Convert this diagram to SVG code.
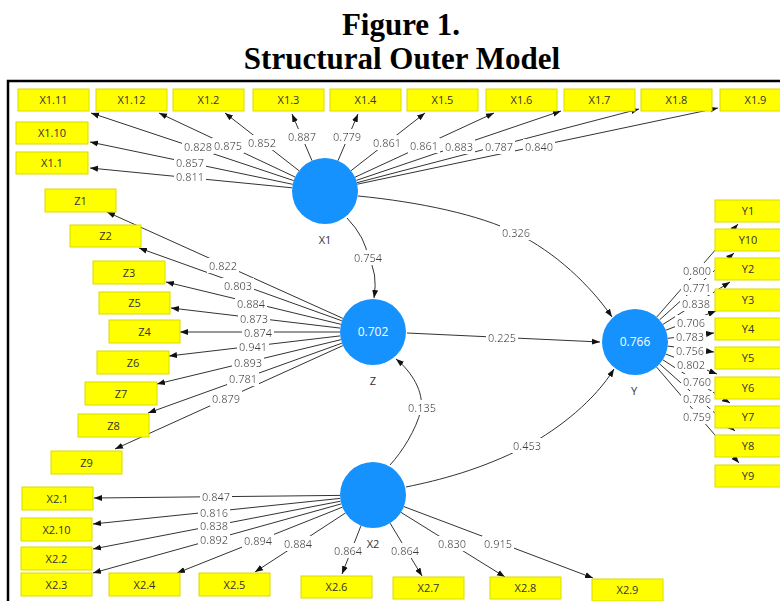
<svg xmlns="http://www.w3.org/2000/svg" width="780" height="601" viewBox="0 0 780 601">
  <defs>
    <marker id="arr" viewBox="0 0 8 8" refX="8" refY="4" markerWidth="8" markerHeight="8" markerUnits="userSpaceOnUse" orient="auto">
      <path d="M0,1 L8,4 L0,7 z" fill="#111"/>
    </marker>
    <filter id="lblbg" x="-0.04" y="0" width="1.08" height="1">
      <feFlood flood-color="#ffffff"/>
      <feComposite in="SourceGraphic" operator="over"/>
    </filter>
  </defs>
  <style>
    .title { font-family: "Liberation Serif", "Times New Roman", serif; font-weight: bold; font-size: 31px; fill: #000; text-anchor: middle; }
    .frame { fill: none; stroke: #000; stroke-width: 2.5; }
    .ind rect { fill: #ffff00; stroke: #dada00; stroke-width: 1; }
    .ind text, .lv text.name { font-family: "Open Sans", "DejaVu Sans", sans-serif; font-size: 11px; fill: #333; text-anchor: middle; }
    .lv circle { fill: #1592fd; }
    .lv text.val { font-family: "Open Sans", "DejaVu Sans", sans-serif; font-size: 12px; fill: #fff; text-anchor: middle; }
    .edge { fill: none; stroke: #333; stroke-width: 1; marker-end: url(#arr); }
    .lbl { font-family: "Open Sans", "DejaVu Sans", sans-serif; font-size: 11px; fill: #3a3a3a; text-anchor: middle; filter: url(#lblbg); }
  </style>

  <rect width="780" height="601" fill="#fff"/>

  <!-- heading -->
  <text class="title" x="401" y="35">Figure 1.</text>
  <text class="title" x="402" y="69">Structural Outer Model</text>

  <!-- border of the model area -->
  <rect class="frame" x="8" y="81" width="800" height="540"/>

  <!-- connectors (lines first, weights on top) -->
  <g id="connectors">
    <!-- X1 outer loadings -->
    <line class="edge" x1="293.7" y1="180.6" x2="91" y2="113"/>
    <line class="edge" x1="295.1" y1="177" x2="159" y2="113"/>
    <line class="edge" x1="299" y1="170.7" x2="225" y2="113"/>
    <line class="edge" x1="312" y1="160.7" x2="292" y2="114"/>
    <line class="edge" x1="338" y1="160.7" x2="358" y2="114"/>
    <line class="edge" x1="351" y1="170.7" x2="425" y2="113"/>
    <line class="edge" x1="355" y1="177.2" x2="494" y2="113"/>
    <line class="edge" x1="356.3" y1="180.4" x2="561" y2="111"/>
    <line class="edge" x1="356.9" y1="182.7" x2="639" y2="109"/>
    <line class="edge" x1="357.3" y1="184.2" x2="718" y2="108"/>
    <line class="edge" x1="292.7" y1="184.3" x2="90" y2="142"/>
    <line class="edge" x1="292.2" y1="187.8" x2="90" y2="168"/>

    <!-- Z outer loadings -->
    <line class="edge" x1="342.9" y1="318.4" x2="107" y2="212"/>
    <line class="edge" x1="341.9" y1="320.8" x2="139" y2="248"/>
    <line class="edge" x1="340.9" y1="324.3" x2="166" y2="282"/>
    <line class="edge" x1="340.2" y1="328.1" x2="171" y2="308"/>
    <line class="edge" x1="340" y1="332" x2="180" y2="332"/>
    <line class="edge" x1="340.2" y1="335.9" x2="169" y2="356"/>
    <line class="edge" x1="340.9" y1="339.7" x2="157" y2="384"/>
    <line class="edge" x1="341.9" y1="343.2" x2="148" y2="413"/>
    <line class="edge" x1="342.9" y1="345.6" x2="115" y2="449"/>

    <!-- Y outer loadings -->
    <line class="edge" x1="656.7" y1="317.1" x2="738" y2="224"/>
    <line class="edge" x1="659.5" y1="319.9" x2="734" y2="253"/>
    <line class="edge" x1="662.9" y1="324.4" x2="730" y2="282"/>
    <line class="edge" x1="665.8" y1="330.2" x2="716" y2="311"/>
    <line class="edge" x1="667.8" y1="338.3" x2="714" y2="333"/>
    <line class="edge" x1="667.7" y1="346.1" x2="714" y2="352"/>
    <line class="edge" x1="665.7" y1="354" x2="717" y2="374"/>
    <line class="edge" x1="662.8" y1="359.8" x2="730" y2="403"/>
    <line class="edge" x1="659.6" y1="363.9" x2="735" y2="431"/>
    <line class="edge" x1="656.5" y1="367" x2="739" y2="463"/>

    <!-- X2 outer loadings -->
    <line class="edge" x1="340" y1="495.4" x2="94" y2="498"/>
    <line class="edge" x1="340.2" y1="498.4" x2="93" y2="524"/>
    <line class="edge" x1="340.6" y1="501.2" x2="93" y2="549"/>
    <line class="edge" x1="341.2" y1="503.9" x2="93" y2="573"/>
    <line class="edge" x1="342.3" y1="507.2" x2="177" y2="573"/>
    <line class="edge" x1="345.4" y1="513" x2="255" y2="572"/>
    <line class="edge" x1="361" y1="525.7" x2="342" y2="574"/>
    <line class="edge" x1="390.1" y1="523.2" x2="422" y2="576"/>
    <line class="edge" x1="401" y1="512.4" x2="505" y2="577"/>
    <line class="edge" x1="403.9" y1="506.6" x2="593" y2="578"/>

    <!-- inner (structural) paths -->
    <path class="edge" d="M347,218 Q366,238 368,258 Q378,272 374,298"/>
    <path class="edge" d="M358,196 C420,202 480,215 516,233 C555,252 590,285 612,317"/>
    <path class="edge" d="M407,333 L600,342"/>
    <path class="edge" d="M390,465 C402,452 416,430 421,410 C424,392 412,372 396,359"/>
    <path class="edge" d="M406,487 C440,480 480,470 527,446 C560,428 595,400 614,369"/>

    <!-- weights -->
    <text class="lbl" x="198" y="151">0.828</text>
    <text class="lbl" x="228" y="150">0.875</text>
    <text class="lbl" x="262" y="147">0.852</text>
    <text class="lbl" x="302" y="141">0.887</text>
    <text class="lbl" x="347" y="141">0.779</text>
    <text class="lbl" x="387" y="147">0.861</text>
    <text class="lbl" x="424" y="150">0.861</text>
    <text class="lbl" x="459" y="151">0.883</text>
    <text class="lbl" x="499" y="151">0.787</text>
    <text class="lbl" x="539" y="151">0.840</text>
    <text class="lbl" x="190" y="167">0.857</text>
    <text class="lbl" x="190" y="181">0.811</text>

    <text class="lbl" x="223" y="270">0.822</text>
    <text class="lbl" x="238" y="290">0.803</text>
    <text class="lbl" x="251" y="308">0.884</text>
    <text class="lbl" x="254" y="323">0.873</text>
    <text class="lbl" x="258" y="337">0.874</text>
    <text class="lbl" x="253" y="351">0.941</text>
    <text class="lbl" x="248" y="367">0.893</text>
    <text class="lbl" x="243" y="383">0.781</text>
    <text class="lbl" x="226" y="403">0.879</text>

    <text class="lbl" x="697" y="275">0.800</text>
    <text class="lbl" x="697" y="292">0.771</text>
    <text class="lbl" x="696" y="308">0.838</text>
    <text class="lbl" x="691" y="327">0.706</text>
    <text class="lbl" x="690" y="341">0.783</text>
    <text class="lbl" x="690" y="355">0.756</text>
    <text class="lbl" x="691" y="369">0.802</text>
    <text class="lbl" x="697" y="386">0.760</text>
    <text class="lbl" x="697" y="403">0.786</text>
    <text class="lbl" x="697" y="421">0.759</text>

    <text class="lbl" x="216" y="501">0.847</text>
    <text class="lbl" x="214" y="517">0.816</text>
    <text class="lbl" x="214" y="530">0.838</text>
    <text class="lbl" x="214" y="544">0.892</text>
    <text class="lbl" x="258" y="545">0.894</text>
    <text class="lbl" x="298" y="548">0.884</text>
    <text class="lbl" x="348" y="555">0.864</text>
    <text class="lbl" x="405" y="555">0.864</text>
    <text class="lbl" x="452" y="548">0.830</text>
    <text class="lbl" x="498" y="548">0.915</text>

    <text class="lbl" x="368" y="262">0.754</text>
    <text class="lbl" x="516" y="237">0.326</text>
    <text class="lbl" x="502" y="342">0.225</text>
    <text class="lbl" x="422" y="412">0.135</text>
    <text class="lbl" x="527" y="450">0.453</text>
  </g>

  <!-- latent variables -->
  <g id="X1" class="lv">
    <circle cx="325" cy="191" r="33"/>
    <text class="name" x="325" y="244">X1</text>
  </g>
  <g id="Z" class="lv">
    <circle cx="373" cy="332" r="33"/>
    <text class="val" x="373" y="336">0.702</text>
    <text class="name" x="373" y="385">Z</text>
  </g>
  <g id="Y" class="lv">
    <circle cx="635" cy="342" r="33"/>
    <text class="val" x="635" y="346">0.766</text>
    <text class="name" x="634" y="395">Y</text>
  </g>
  <g id="X2" class="lv">
    <circle cx="373" cy="495" r="33"/>
    <text class="name" x="373" y="548">X2</text>
  </g>

  <!-- X1 indicators -->
  <g id="X1_11" class="ind"><rect x="18" y="89" width="71" height="22"/><text x="53.5" y="104">X1.11</text></g>
  <g id="X1_12" class="ind"><rect x="96" y="89" width="71" height="22"/><text x="131.5" y="104">X1.12</text></g>
  <g id="X1_2" class="ind"><rect x="173" y="89" width="71" height="22"/><text x="208.5" y="104">X1.2</text></g>
  <g id="X1_3" class="ind"><rect x="253" y="89" width="71" height="22"/><text x="288.5" y="104">X1.3</text></g>
  <g id="X1_4" class="ind"><rect x="330" y="89" width="71" height="22"/><text x="365.5" y="104">X1.4</text></g>
  <g id="X1_5" class="ind"><rect x="407" y="89" width="71" height="22"/><text x="442.5" y="104">X1.5</text></g>
  <g id="X1_6" class="ind"><rect x="486" y="89" width="71" height="22"/><text x="521.5" y="104">X1.6</text></g>
  <g id="X1_7" class="ind"><rect x="564" y="89" width="71" height="22"/><text x="599.5" y="104">X1.7</text></g>
  <g id="X1_8" class="ind"><rect x="641" y="89" width="71" height="22"/><text x="676.5" y="104">X1.8</text></g>
  <g id="X1_9" class="ind"><rect x="720" y="89" width="71" height="22"/><text x="755.5" y="104">X1.9</text></g>
  <g id="X1_10" class="ind"><rect x="16" y="122" width="72" height="22"/><text x="52" y="137">X1.10</text></g>
  <g id="X1_1" class="ind"><rect x="16" y="152" width="72" height="22"/><text x="52" y="167">X1.1</text></g>

  <!-- Z indicators -->
  <g id="Z1" class="ind"><rect x="45" y="189" width="71" height="23"/><text x="80.5" y="204.5">Z1</text></g>
  <g id="Z2" class="ind"><rect x="70" y="225" width="71" height="22"/><text x="105.5" y="240">Z2</text></g>
  <g id="Z3" class="ind"><rect x="93" y="261" width="72" height="23"/><text x="129" y="276.5">Z3</text></g>
  <g id="Z5" class="ind"><rect x="99" y="292" width="71" height="22"/><text x="134.5" y="307">Z5</text></g>
  <g id="Z4" class="ind"><rect x="109" y="320" width="71" height="23"/><text x="144.5" y="335.5">Z4</text></g>
  <g id="Z6" class="ind"><rect x="97" y="351" width="72" height="23"/><text x="133" y="366.5">Z6</text></g>
  <g id="Z7" class="ind"><rect x="85" y="382" width="72" height="23"/><text x="121" y="397.5">Z7</text></g>
  <g id="Z8" class="ind"><rect x="78" y="414" width="71" height="23"/><text x="113.5" y="429.5">Z8</text></g>
  <g id="Z9" class="ind"><rect x="51" y="451" width="71" height="23"/><text x="86.5" y="466.5">Z9</text></g>

  <!-- Y indicators -->
  <g id="Y1" class="ind"><rect x="715" y="200" width="66" height="22"/><text x="748" y="215">Y1</text></g>
  <g id="Y10" class="ind"><rect x="715" y="229" width="66" height="22"/><text x="748" y="244">Y10</text></g>
  <g id="Y2" class="ind"><rect x="715" y="258" width="66" height="22"/><text x="748" y="273">Y2</text></g>
  <g id="Y3" class="ind"><rect x="715" y="289" width="66" height="22"/><text x="748" y="304">Y3</text></g>
  <g id="Y4" class="ind"><rect x="715" y="318" width="66" height="22"/><text x="748" y="333">Y4</text></g>
  <g id="Y5" class="ind"><rect x="715" y="347" width="66" height="22"/><text x="748" y="362">Y5</text></g>
  <g id="Y6" class="ind"><rect x="715" y="377" width="66" height="22"/><text x="748" y="392">Y6</text></g>
  <g id="Y7" class="ind"><rect x="715" y="406" width="66" height="22"/><text x="748" y="421">Y7</text></g>
  <g id="Y8" class="ind"><rect x="715" y="435" width="66" height="22"/><text x="748" y="450">Y8</text></g>
  <g id="Y9" class="ind"><rect x="715" y="465" width="66" height="22"/><text x="748" y="480">Y9</text></g>

  <!-- X2 indicators -->
  <g id="X2_1" class="ind"><rect x="22" y="487" width="71" height="23"/><text x="57.5" y="502.5">X2.1</text></g>
  <g id="X2_10" class="ind"><rect x="21" y="518" width="71" height="23"/><text x="56.5" y="533.5">X2.10</text></g>
  <g id="X2_2" class="ind"><rect x="21" y="547" width="71" height="23"/><text x="56.5" y="562.5">X2.2</text></g>
  <g id="X2_3" class="ind"><rect x="21" y="573" width="71" height="23"/><text x="56.5" y="588.5">X2.3</text></g>
  <g id="X2_4" class="ind"><rect x="109" y="573" width="71" height="23"/><text x="144.5" y="588.5">X2.4</text></g>
  <g id="X2_5" class="ind"><rect x="199" y="573" width="71" height="23"/><text x="234.5" y="588.5">X2.5</text></g>
  <g id="X2_6" class="ind"><rect x="301" y="576" width="71" height="22"/><text x="336.5" y="591">X2.6</text></g>
  <g id="X2_7" class="ind"><rect x="393" y="577" width="71" height="22"/><text x="428.5" y="592">X2.7</text></g>
  <g id="X2_8" class="ind"><rect x="490" y="577" width="71" height="22"/><text x="525.5" y="592">X2.8</text></g>
  <g id="X2_9" class="ind"><rect x="592" y="579" width="71" height="22"/><text x="627.5" y="594">X2.9</text></g>
</svg>
